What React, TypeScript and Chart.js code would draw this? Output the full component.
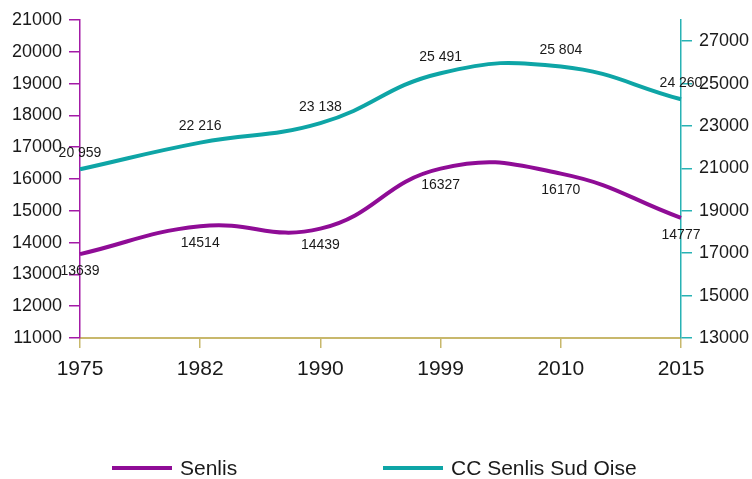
import React, { useEffect, useRef } from "react";
import { Chart, registerables } from "chart.js";

Chart.register(...registerables);

const years = ["1975", "1982", "1990", "1999", "2010", "2015"];
const senlis = [13639, 14514, 14439, 16327, 16170, 14777];
const ccSenlis = [20959, 22216, 23138, 25491, 25804, 24260];
const seriesNames = ["Senlis", "CC Senlis Sud Oise"];
const rightTicks = [13000, 15000, 17000, 19000, 21000, 23000, 25000, 27000];

const FONT = "'Liberation Sans', Arial, sans-serif";
const PURPLE = "#8f0c96";
const PURPLE_AXIS = "#a31aa6";
const TEAL = "#0ea5a6";
const TEAL_AXIS = "#28b2b4";
const GOLD = "#c8b86c";

const fmtSpace = (v: number) =>
  v >= 1000 ? `${Math.floor(v / 1000)} ${String(v % 1000).padStart(3, "0")}` : String(v);

const labelPlugin = {
  id: "valueLabels",
  afterDatasetsDraw(chart: any) {
    const ctx = chart.ctx;
    ctx.save();
    ctx.font = `14px ${FONT}`;
    ctx.fillStyle = "#1a1a1a";
    ctx.textAlign = "center";
    ctx.textBaseline = "middle";
    chart.data.datasets.forEach((ds: any, i: number) => {
      const meta = chart.getDatasetMeta(i);
      meta.data.forEach((pt: any, j: number) => {
        const v = ds.data[j] as number;
        if (i === 0) ctx.fillText(String(v), pt.x, pt.y + 17);
        else ctx.fillText(fmtSpace(v), pt.x, pt.y - 16);
      });
    });
    ctx.restore();
  },
};

const legendPlugin = {
  id: "customLegend",
  afterDraw(chart: any) {
    const ctx = chart.ctx;
    ctx.save();
    const y = 468;
    const items = [
      { x: 112, color: PURPLE, text: seriesNames[0] },
      { x: 383, color: TEAL, text: seriesNames[1] },
    ];
    ctx.font = `21px ${FONT}`;
    ctx.textBaseline = "middle";
    ctx.textAlign = "left";
    items.forEach((it) => {
      ctx.strokeStyle = it.color;
      ctx.lineWidth = 4;
      ctx.beginPath();
      ctx.moveTo(it.x, y);
      ctx.lineTo(it.x + 60, y);
      ctx.stroke();
      ctx.fillStyle = "#1a1a1a";
      ctx.fillText(it.text, it.x + 68, y + 1);
    });
    ctx.restore();
  },
};

export default function App() {
  const ref = useRef<HTMLCanvasElement | null>(null);
  useEffect(() => {
    if (!ref.current) return;
    const chart = new Chart(ref.current, {
      type: "line",
      data: {
        labels: years,
        datasets: [
          {
            label: seriesNames[0],
            data: senlis,
            borderColor: PURPLE,
            backgroundColor: PURPLE,
            borderWidth: 4,
            pointRadius: 0,
            tension: 0.45,
            yAxisID: "y",
          },
          {
            label: seriesNames[1],
            data: ccSenlis,
            borderColor: TEAL,
            backgroundColor: TEAL,
            borderWidth: 4,
            pointRadius: 0,
            tension: 0.45,
            yAxisID: "y1",
          },
        ],
      },
      options: {
        responsive: false,
        animation: false,
        layout: { padding: { top: 20, left: 0, right: 0, bottom: 0 } },
        plugins: { legend: { display: false }, tooltip: { enabled: false } },
        scales: {
          x: {
            type: "category",
            offset: false,
            grid: {
              drawOnChartArea: false,
              drawTicks: true,
              tickLength: 10,
              color: GOLD,
              lineWidth: 1.5,
            },
            border: { color: GOLD, width: 2 },
            ticks: { font: { family: FONT, size: 21 }, color: "#1a1a1a", padding: 9, maxRotation: 0 },
            afterFit: (s: any) => {
              s.height = 141;
            },
          },
          y: {
            position: "left",
            min: 11000,
            max: 21000,
            ticks: {
              stepSize: 1000,
              font: { family: FONT, size: 18 },
              color: "#1a1a1a",
              padding: 7,
              callback: (v: any) => String(v),
            },
            grid: {
              drawOnChartArea: false,
              drawTicks: true,
              tickLength: 11,
              color: PURPLE_AXIS,
              lineWidth: 1.5,
            },
            border: { color: PURPLE_AXIS, width: 1.5 },
            afterFit: (s: any) => {
              s.width = 80;
            },
          },
          y1: {
            position: "right",
            min: 13000,
            max: 28000,
            ticks: {
              font: { family: FONT, size: 18 },
              color: "#1a1a1a",
              padding: 7,
              callback: (v: any) => String(v),
            },
            afterBuildTicks: (s: any) => {
              s.ticks = rightTicks.map((v) => ({ value: v }));
            },
            grid: {
              drawOnChartArea: false,
              drawTicks: true,
              tickLength: 11,
              color: TEAL_AXIS,
              lineWidth: 1.5,
            },
            border: { color: TEAL_AXIS, width: 1.5 },
            afterFit: (s: any) => {
              s.width = 71;
            },
          },
        },
      } as any,
      plugins: [labelPlugin, legendPlugin],
    });
    return () => chart.destroy();
  }, []);
  return (
    <div style={{ position: "fixed", left: 0, top: 0, width: 752, height: 479, background: "#fff" }}>
      <canvas ref={ref} width={752} height={479} style={{ display: "block" }} />
    </div>
  );
}
